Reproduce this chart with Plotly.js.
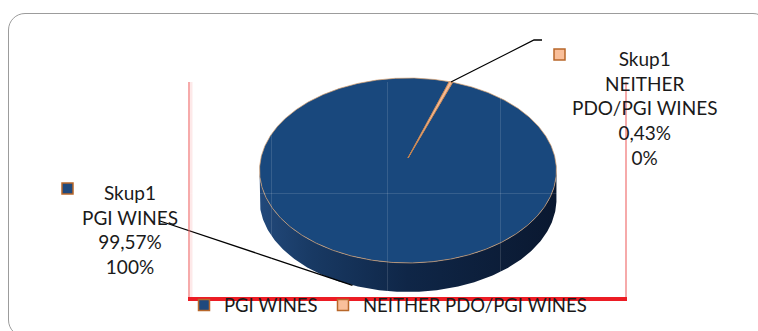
<!DOCTYPE html>
<html>
<head>
<meta charset="utf-8">
<script src="https://cdn.plot.ly/plotly-3.0.1.min.js"></script>
<style>
  html, body { margin: 0; padding: 0; background: #ffffff; overflow: hidden; }
  #frame {
    position: absolute; left: 8px; top: 13px; width: 762px; height: 324px;
    border: 1.3px solid #9c9c9c; border-radius: 17px; box-sizing: border-box;
  }
  #chart { position: absolute; left: 0; top: 0; width: 758px; height: 331px; }
</style>
</head>
<body>
<div id="frame"></div>
<div id="chart"></div>
<script>
// ---- data ----
const seriesName = 'Skup1';
const categories = ['PGI WINES', 'NEITHER PDO/PGI WINES'];
const shares = [99.57, 0.43];                       // % of wine production
const labelLines = [['PGI WINES'], ['NEITHER', 'PDO/PGI WINES']];

// ---- styling ----
const topColors  = ['#19487d', '#f8bc95'];
const keyColors  = ['#1f497d', '#f9bf9a'];
const edgeColors = ['rgba(214,160,112,0.9)', '#c77d45'];
const keyBorder  = '#b8672a';
const textColor  = '#1a1a1a';
const FONT = 'Lato, "Open Sans", sans-serif';
const FS = 19;          // data labels
const FS_LEGEND = 18.5; // legend

// 3-D pie geometry (pixel units; perspective tilt k)
const PIE = { hx: 408, hy: 158, a: 147.1, b: 90.8, k: 0.135, depth: 29, rotation: 20 };

// label placement: text centre, key square, leader start (and optional elbow)
const LABELS = [
  { x: 130, y: 229, key: [67.5, 188.5], start: [160, 221], elbow: null, onSide: true },
  { x: 644, y: 108, key: [559.5, 54.5], start: [542, 40], elbow: [534, 40], onSide: false }
];

function project(phi, drop) {
  const r = phi * Math.PI / 180;
  const s = Math.sin(r), c = Math.cos(r);
  const w = 1 + PIE.k * c;
  return [PIE.hx + PIE.a * s / w, PIE.hy - PIE.b * c / w + (drop || 0)];
}

function arc(a0, a1, drop) {
  const xs = [], ys = [];
  const n = Math.max(2, Math.ceil(Math.abs(a1 - a0) / 0.5));
  for (let i = 0; i <= n; i++) {
    const p = project(a0 + (a1 - a0) * i / n, drop);
    xs.push(p[0]); ys.push(p[1]);
  }
  return [xs, ys];
}

const total = shares.reduce((s, v) => s + v, 0);
const slices = [];
let acc = PIE.rotation;
shares.forEach((v, i) => {
  const span = 360 * v / total;
  slices.push({ a0: acc, a1: acc + span, mid: acc + span / 2 });
  acc += span;
});

const traces = [];

// front wall (visible between the two silhouette angles)
const frontL = Math.acos(-PIE.k) * 180 / Math.PI;      // ~97.8
const frontR = 360 - frontL;                              // ~262.2
slices.forEach((sl, i) => {
  [0, 360].forEach(off => {
    const f0 = Math.max(sl.a0, frontL + off);
    const f1 = Math.min(sl.a1, frontR + off);
    if (f1 <= f0) return;
    const [tx, ty] = arc(f0, f1, 0);
    const [bx, by] = arc(f1, f0, PIE.depth);
    traces.push({
      type: 'scatter', mode: 'lines', x: tx.concat(bx, [tx[0]]), y: ty.concat(by, [ty[0]]),
      fill: 'toself', line: { width: 0 },
      fillcolor: i === 0 ? '#13315a' : '#c98a62',
      fillgradient: i === 0 ? {
        type: 'horizontal',
        colorscale: [[0, '#22497b'], [0.18, '#183963'], [0.5, '#0f2647'], [1, '#0a1830']]
      } : undefined,
      showlegend: false, hoverinfo: 'skip'
    });
  });
});

// top faces
slices.forEach((sl, i) => {
  const [ax, ay] = arc(sl.a0, sl.a1, 0);
  traces.push({
    type: 'scatter', mode: 'lines',
    x: [PIE.hx].concat(ax, [PIE.hx]), y: [PIE.hy].concat(ay, [PIE.hy]),
    fill: 'toself', fillcolor: topColors[i],
    line: { color: edgeColors[i], width: 0.8 },
    showlegend: false, hoverinfo: 'skip'
  });
});

// leader lines
slices.forEach((sl, i) => {
  const L = LABELS[i];
  const end = project(sl.mid, L.onSide ? PIE.depth : 0);
  const pts = [L.start].concat(L.elbow ? [L.elbow] : [], [end]);
  traces.push({
    type: 'scatter', mode: 'lines',
    x: pts.map(p => p[0]), y: pts.map(p => p[1]),
    line: { color: '#000000', width: 1.3 },
    showlegend: false, hoverinfo: 'skip'
  });
});

// label keys
slices.forEach((sl, i) => {
  traces.push({
    type: 'scatter', mode: 'markers',
    x: [LABELS[i].key[0]], y: [LABELS[i].key[1]],
    marker: { symbol: 'square', size: 11, color: keyColors[i], line: { color: keyBorder, width: 1.5 } },
    showlegend: false, hoverinfo: 'skip'
  });
});

// legend entries (first entry gets a fixed width to space the second one)
categories.forEach((c, i) => {
  traces.push({
    type: 'scatter', mode: 'markers', x: [null], y: [null], name: c,
    legendwidth: i === 0 ? 94 : undefined,
    marker: { symbol: 'square', size: 11, color: keyColors[i], line: { color: keyBorder, width: 1.5 } },
    showlegend: true, hoverinfo: 'skip'
  });
});

const fmtShare = v => v.toFixed(2).replace('.', ',') + '%';
const annotations = slices.map((sl, i) => ({
  xref: 'x', yref: 'y', x: LABELS[i].x, y: LABELS[i].y,
  xanchor: 'center', yanchor: 'middle', align: 'center', showarrow: false,
  text: [seriesName].concat(labelLines[i], [fmtShare(shares[i]), Math.round(shares[i] / total * 100) + '%']).join('<br>'),
  font: { family: FONT, size: FS, color: textColor }
}));

// plot-area frame glow
const shapes = [
  { type: 'line', xref: 'x2', yref: 'y2', x0: 190, x1: 628, y0: 300.5, y1: 300.5, layer: 'below',
    line: { color: 'rgba(235,30,30,0.45)', width: 4 } },
  { type: 'line', xref: 'x2', yref: 'y2', x0: 192, x1: 628, y0: 303.5, y1: 303.5, layer: 'below',
    line: { color: 'rgba(235,30,30,0.15)', width: 3 } },
  { type: 'line', xref: 'x2', yref: 'y2', x0: 190, x1: 190, y0: 82, y1: 297, layer: 'below',
    line: { color: 'rgba(240,110,110,0.15)', width: 5 } },
  { type: 'line', xref: 'x2', yref: 'y2', x0: 628, x1: 628, y0: 88, y1: 300, layer: 'below',
    line: { color: 'rgba(120,120,120,0.18)', width: 4 } }
];

const W = 758, H = 331;
const GRID = 'rgba(255,255,255,0.13)';
const layout = {
  width: W, height: H, margin: { l: 0, r: 0, t: 0, b: 0 },
  paper_bgcolor: 'rgba(0,0,0,0)', plot_bgcolor: 'rgba(0,0,0,0)',
  hovermode: false,
  xaxis: { range: [0, W], domain: [0, 1], visible: false, fixedrange: true },
  yaxis: { range: [H, 0], domain: [0, 1], visible: false, fixedrange: true },
  xaxis2: {
    anchor: 'y2', domain: [190 / W, 625 / W], range: [190, 625],
    tickmode: 'array', tickvals: [271, 387, 500], showticklabels: false, ticks: '',
    showgrid: true, gridcolor: GRID, gridwidth: 1, zeroline: false,
    showline: true, linecolor: '#ec1c24', linewidth: 4, fixedrange: true
  },
  yaxis2: {
    anchor: 'x2', domain: [1 - 297 / H, 1 - 82 / H], range: [297, 82],
    tickmode: 'array', tickvals: [193], showticklabels: false, ticks: '',
    showgrid: true, gridcolor: GRID, gridwidth: 1, zeroline: false,
    showline: true, mirror: true, linecolor: 'rgba(238,100,100,0.55)', linewidth: 2, fixedrange: true
  },
  showlegend: true,
  legend: {
    orientation: 'h', x: 184 / W, xanchor: 'left', y: 1 - 305.5 / H, yanchor: 'middle',
    bgcolor: 'rgba(0,0,0,0)', borderwidth: 0,
    font: { family: FONT, size: FS_LEGEND, color: textColor }
  },
  annotations: annotations,
  shapes: shapes
};

Plotly.newPlot('chart', traces, layout, { staticPlot: true, displayModeBar: false });
</script>
</body>
</html>
